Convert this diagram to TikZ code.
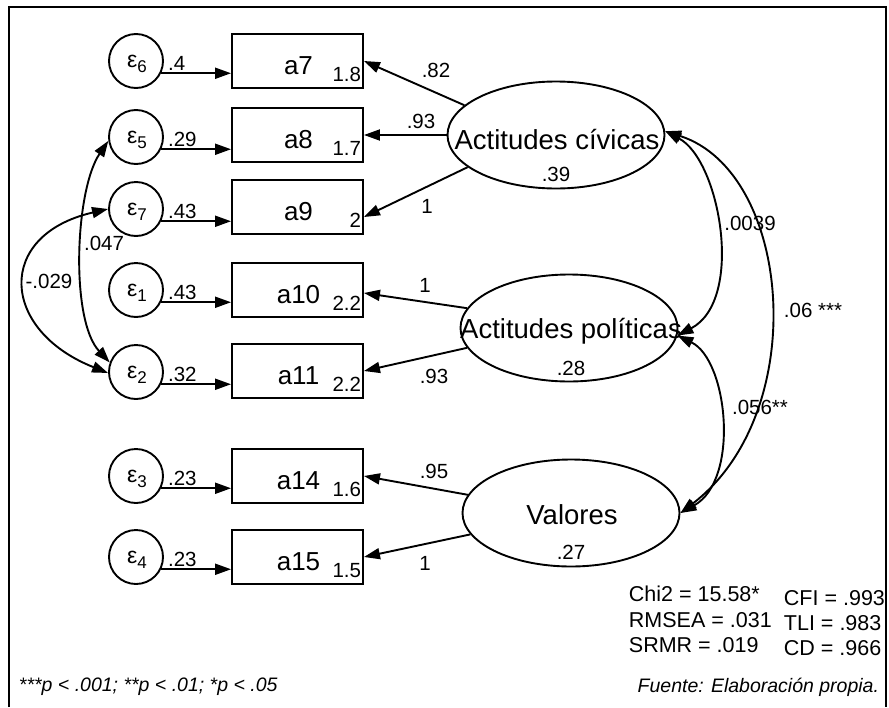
\documentclass[tikz,border=0pt]{standalone}
\usepackage{fontspec}
\setmainfont{Liberation Sans}
\usetikzlibrary{arrows.meta,shapes.geometric,calc}
\newcommand{\myfs}[1]{\fontsize{#1}{#1}\selectfont}
\begin{document}
\begin{tikzpicture}[x=1pt,y=-1pt,line width=1.9pt,
  >={Triangle[length=16pt,width=11pt]},
  arr/.style={->},
  dbl/.style={<->},
  errc/.style={circle,draw,minimum size=54pt,inner sep=0pt},
  obs/.style={rectangle,draw,minimum width=131pt,minimum height=54pt,inner sep=0pt},
  lat/.style={ellipse,draw,minimum width=217pt,minimum height=107pt,inner sep=0pt},
  lattext/.style={font=\myfs{27.5},inner sep=0pt},
  obstext/.style={font=\myfs{26},inner sep=0pt},
  boxval/.style={font=\myfs{20.5},inner sep=0pt,anchor=base east},
  val/.style={font=\myfs{20.5},inner sep=0pt},
  errval/.style={font=\myfs{20.5},inner sep=0pt,anchor=base west},
  stat/.style={font=\myfs{21.5},inner sep=0pt,anchor=base west},
  note/.style={font=\myfs{19.5}\itshape,inner sep=0pt}
]
\useasboundingbox (0,0) rectangle (889,707);
% frame
\draw[line width=2.2pt] (9,707) -- (9,7) -- (886,7) -- (886,707);

% error circles
\foreach \n/\y/\k in {e6/61/6,e5/137/5,e7/209/7,e1/290/1,e2/372/2,e3/476/3,e4/557/4}{
  \node[errc] (\n) at (136,\y) {};
  \node[inner sep=0pt,anchor=base] at ($(\n.center)+(1,6)$) {\myfs{23}ε\raisebox{-5pt}{\myfs{17}\k}};
}
% observed boxes
\foreach \n/\y/\t/\v in {a7/61/a7/1.8,a8/135/a8/1.7,a9/207/a9/2,a10/290/a10/2.2,a11/371/a11/2.2,a14/476/a14/1.6,a15/557/a15/1.5}{
  \node[obs] (\n) at (297.5,\y) {};
  \node[obstext] at ($(\n.center)+(1,5)$) {\t};
  \node[boxval] at ($(\n.south east)+(-2,-7)$) {\v};
}
% error arrows
\foreach \e/\b/\v in {e6/a7/.4,e5/a8/.29,e7/a9/.43,e1/a10/.43,e2/a11/.32,e3/a14/.23,e4/a15/.23}{
  \draw[arr] (\e.-26) -- (\e.-26 -| \b.west);
  \node[errval] at ($(\e.-26)+(6,-3)$) {\v};
}

% latent variables
\node[lat] (civ) at (556,135) {};
\node[lattext] at ($(civ.center)+(1,5)$) {Actitudes cívicas};
\node[val] at (556,174) {.39};
\node[lat] (pol) at (569,328) {};
\node[lattext] at ($(pol.center)+(2,3)$) {Actitudes políticas};
\node[val] at (571,368) {.28};
\node[lat] (vals) at (571,513) {};
\node[lattext] at ($(vals.center)+(1,2)$) {Valores};
\node[val] at (571,552) {.27};

% loadings
\draw[arr] (civ.162) -- (a7.east);
\node[val] at (436,70) {.82};
\draw[arr] (civ.west) -- (a8.east);
\node[val] at (421,121) {.93};
\draw[arr] (civ.200) -- ($(a9.east)+(0,10)$);
\node[val] at (427,206) {1};
\draw[arr] (pol.169) -- ($(a10.east)+(0,3)$);
\node[val] at (425,285) {1};
\draw[arr] (pol.191) -- (a11.east);
\node[val] at (434,376) {.93};
\draw[arr] (vals.170) -- (a14.east);
\node[val] at (434,471) {.95};
\draw[arr] (vals.192) -- (a15.east);
\node[val] at (425,563) {1};

% error covariances
\draw[dbl] (e5.188) .. controls (75,190) and (70,320) .. (e2.160);
\node[val] at (104,243) {.047};
\draw[dbl] (e7.180) .. controls (-5,235) and (0,330) .. (e2.182);
\node[val] at (49,281) {-.029};

% latent covariances
\draw[dbl] (civ.2) .. controls (720,160) and (745,300) .. (pol.-4);
\node[val] at (750,223) {.0039};
\draw[dbl] (civ.2) .. controls (792,172) and (812,412) .. (vals.east);
\node[val] at (813,310) {.06 ***};
\draw[dbl] (pol.-4) .. controls (728,360) and (740,480) .. (vals.east);
\node[val] at (760,407) {.056**};

% fit statistics
\node[stat] (chi) at (628,601) {Chi2 = 15.58*};
\node[stat] (rmsea) at (628,627) {RMSEA = .031};
\node[stat] (srmr) at (628,652) {SRMR = .019};
\node[stat] (cfi) at (783,605) {CFI = .993};
\node[stat] (tli) at (783,630) {TLI = .983};
\node[stat] (cd) at (783,655) {CD = .966};

% notes
\node[note,anchor=base west] (pn) at (18,691) {***p < .001; **p < .01; *p < .05};
\node[note,anchor=base east] (src) at (880,692) {Fuente: Elaboración propia.};
\end{tikzpicture}
\end{document}
